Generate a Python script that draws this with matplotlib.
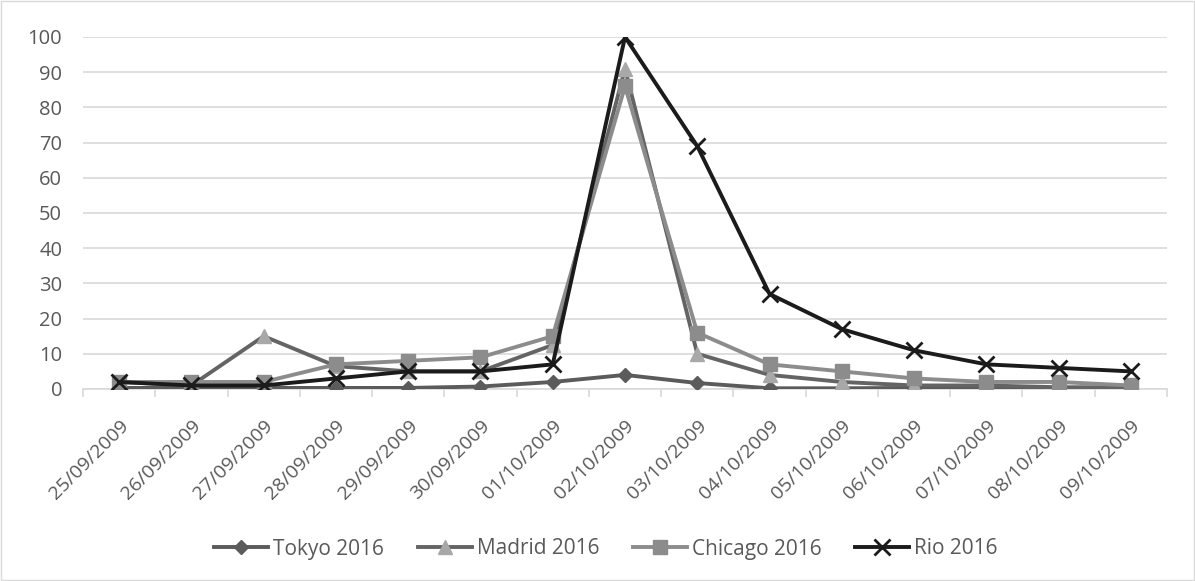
import matplotlib
matplotlib.use("Agg")
import matplotlib.pyplot as plt
from matplotlib.patches import Rectangle
import matplotlib.transforms as mtransforms

dates = ["25/09/2009", "26/09/2009", "27/09/2009", "28/09/2009", "29/09/2009",
         "30/09/2009", "01/10/2009", "02/10/2009", "03/10/2009", "04/10/2009",
         "05/10/2009", "06/10/2009", "07/10/2009", "08/10/2009", "09/10/2009"]
tokyo = [0.3, 0.3, 0.3, 0.3, 0.3, 0.7, 2, 4, 1.7, 0.2, 0.2, 0.3, 0.3, 0, 0.2]
madrid = [2, 1, 15, 6.5, 5, 5, 12.5, 91, 10, 4, 2, 1, 1, 0.5, 0.5]
chicago = [2, 2, 2, 7, 8, 9, 15, 86, 16, 7, 5, 3, 2, 2, 1]
rio = [2, 1, 1, 3, 5, 5, 7, 100, 69, 27, 17, 11, 7, 6, 5]

plt.rcParams['font.family'] = ['Open Sans', 'DejaVu Sans']
fig = plt.figure(figsize=(11.95, 5.81), dpi=100)
ax = fig.add_axes([83/1195, 1-389/581, (1167-83)/1195, (389-37)/581])

x = list(range(len(dates)))
ax.plot(x, tokyo, color="#5b5b5b", lw=2.8, marker="D", ms=7, mfc="#5b5b5b", mec="#5b5b5b", label="Tokyo 2016", zorder=3)
ax.plot(x, madrid, color="#646464", lw=2.8, marker="^", ms=10, mfc="#a8a8a8", mec="#a8a8a8", label="Madrid 2016", zorder=4)
ax.plot(x, chicago, color="#8c8c8c", lw=2.8, marker="s", ms=10, mfc="#8c8c8c", mec="#8c8c8c", label="Chicago 2016", zorder=5)
ax.plot(x, rio, color="#1b1b1b", lw=2.8, marker="x", ms=12, mew=2, mfc="#1b1b1b", mec="#1b1b1b", label="Rio 2016", zorder=6)

ax.set_xlim(-0.5, len(dates) - 0.5)
ax.set_ylim(0, 100)
ax.set_yticks(range(0, 101, 10))
ax.yaxis.grid(True, color="#d9d9d9", lw=1.2)
ax.set_axisbelow(True)
ax.set_xticks(x)
ax.set_xticklabels(dates, rotation=45, ha="right", va="top", rotation_mode="anchor",
                   fontsize=14, color="#595959")
offset = mtransforms.ScaledTranslation(4/100, 0, fig.dpi_scale_trans)
for lab in ax.get_xticklabels():
    lab.set_transform(lab.get_transform() + offset)
ax.set_xticks([i - 0.5 for i in range(len(dates) + 1)], minor=True)
ax.tick_params(axis="x", which="major", length=0, pad=20)
ax.tick_params(axis="x", which="minor", length=6, color="#d9d9d9", width=1.2)
ax.tick_params(axis="y", length=0, labelsize=14.5, labelcolor="#595959", pad=15)
for s in ["top", "right", "left"]:
    ax.spines[s].set_visible(False)
ax.spines["bottom"].set_color("#d9d9d9")
ax.spines["bottom"].set_linewidth(1.2)

fig.legend(loc="center", bbox_to_anchor=(606/1195, 1-549/581), ncol=4, frameon=False,
           fontsize=15, handlelength=2.6, columnspacing=1.6, handletextpad=0.25,
           labelcolor="#595959")
fig.patches.append(Rectangle((1/1195, 1/581), 1-2/1195, 1-2/581, transform=fig.transFigure,
                             fill=False, edgecolor="#d9d9d9", lw=1))
fig.savefig("out.png", dpi=100)
